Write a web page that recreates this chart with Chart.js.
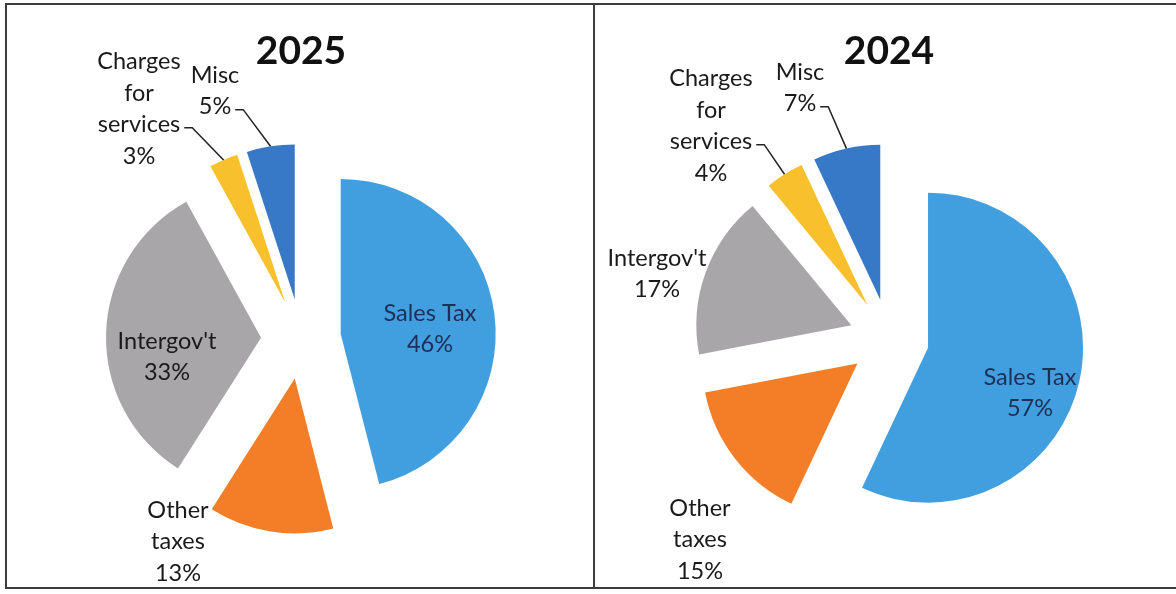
<!DOCTYPE html>
<html>
<head>
<meta charset="utf-8">
<script src="https://cdn.jsdelivr.net/npm/chart.js@4.4.1/dist/chart.umd.min.js"></script>
<style>
  html, body { margin: 0; padding: 0; background: #fff; }
  #page { position: relative; width: 1176px; height: 594px; overflow: hidden; background: #fff; }
  .box { position: absolute; top: 3px; height: 582px; border: 2px solid #3c3c3c; }
  #box2025 { left: 5px; width: 586px; }
  #box2024 { left: 593px; width: 600px; }
  .wrap { position: absolute; top: 0; width: 590px; height: 594px; }
  #wrap2025 { left: 6px; }
  #wrap2024 { left: 594px; }
</style>
</head>
<body>
<div id="page">
  <div class="box" id="box2025"></div>
  <div class="box" id="box2024"></div>
  <div class="wrap" id="wrap2025"><canvas id="pie2025"></canvas></div>
  <div class="wrap" id="wrap2024"><canvas id="pie2024"></canvas></div>
</div>
<script>
// revenue share by source, clockwise from 12 o'clock
const categories = ['Sales Tax', ['Other', 'taxes'], "Intergov't", ['Charges', 'for', 'services'], 'Misc'];
const values2025 = [46, 13, 33, 3, 5];
const values2024 = [57, 15, 17, 4, 7];
const sliceColors = ['#429fdf', '#f37e27', '#a8a6a9', '#f8c02c', '#3879c7'];

// label block centres, relative to the pie centre
const spots2025 = [
  { dx: 129, dy: -10, color: '#1d2f55' },
  { dx: -123, dy: 203 },
  { dx: -134, dy: 18 },
  { dx: -162, dy: -230, leader: 2 },
  { dx: -86, dy: -248, leader: 1 }
];
const spots2024 = [
  { dx: 141, dy: 54, color: '#1d2f55' },
  { dx: -189, dy: 201 },
  { dx: -232, dy: -65 },
  { dx: -178, dy: -213, leader: 2 },
  { dx: -89, dy: -251, leader: 1 }
];

// pull every slice away from the centre
const explode = {
  id: 'explode',
  afterDatasetsUpdate(chart, args, opts) {
    chart.getDatasetMeta(0).data.forEach(arc => {
      const mid = (arc.startAngle + arc.endAngle) / 2;
      arc.x += Math.cos(mid) * opts.distance;
      arc.y += Math.sin(mid) * opts.distance;
    });
  }
};

const sliceLabels = {
  id: 'sliceLabels',
  afterDatasetsDraw(chart, args, opts) {
    const ctx = chart.ctx;
    const a = chart.chartArea;
    const cx = (a.left + a.right) / 2, cy = (a.top + a.bottom) / 2;
    const ds = chart.data.datasets[0];
    ctx.save();
    ctx.font = opts.font;
    ctx.textAlign = 'center';
    ctx.textBaseline = 'middle';
    chart.getDatasetMeta(0).data.forEach((arc, i) => {
      const spot = opts.spots[i];
      const lines = [].concat(chart.data.labels[i], ds.data[i] + '%');
      const x = cx + spot.dx;
      const top = cy + spot.dy - (lines.length - 1) * opts.lineHeight / 2;
      ctx.fillStyle = spot.color || opts.color;
      lines.forEach((t, k) => ctx.fillText(t, x, top + k * opts.lineHeight));
      if (spot.leader != null) {
        const w = ctx.measureText(lines[spot.leader]).width;
        const sx = x + w / 2 + 4, sy = top + spot.leader * opts.lineHeight + 3;
        const mid = (arc.startAngle + arc.endAngle) / 2;
        const ex = arc.x + Math.cos(mid) * arc.outerRadius;
        const ey = arc.y + Math.sin(mid) * arc.outerRadius;
        ctx.beginPath();
        ctx.moveTo(sx, sy);
        ctx.lineTo(sx + 8, sy);
        ctx.lineTo(ex, ey);
        ctx.strokeStyle = '#222';
        ctx.lineWidth = 1.5;
        ctx.stroke();
      }
    });
    ctx.restore();
  }
};

function makePie(id, year, values, spots) {
  return new Chart(document.getElementById(id), {
    type: 'pie',
    data: {
      labels: categories,
      datasets: [{
        data: values,
        backgroundColor: sliceColors,
        borderWidth: 0
      }]
    },
    options: {
      responsive: true,
      maintainAspectRatio: false,
      animation: false,
      events: [],
      radius: 155,
      layout: { padding: 0 },
      plugins: {
        legend: { display: false },
        tooltip: { enabled: false },
        title: {
          display: true,
          text: year,
          color: '#111',
          font: { family: 'Lato', size: 39, weight: 'bold' },
          padding: { top: 28, bottom: 9 }
        },
        explode: { distance: 40 },
        sliceLabels: {
          spots: spots,
          font: '23.5px Lato',
          lineHeight: 31.5,
          color: '#1a1a1a'
        }
      }
    },
    plugins: [explode, sliceLabels]
  });
}

makePie('pie2025', '2025', values2025, spots2025);
makePie('pie2024', '2024', values2024, spots2024);
</script>
</body>
</html>
